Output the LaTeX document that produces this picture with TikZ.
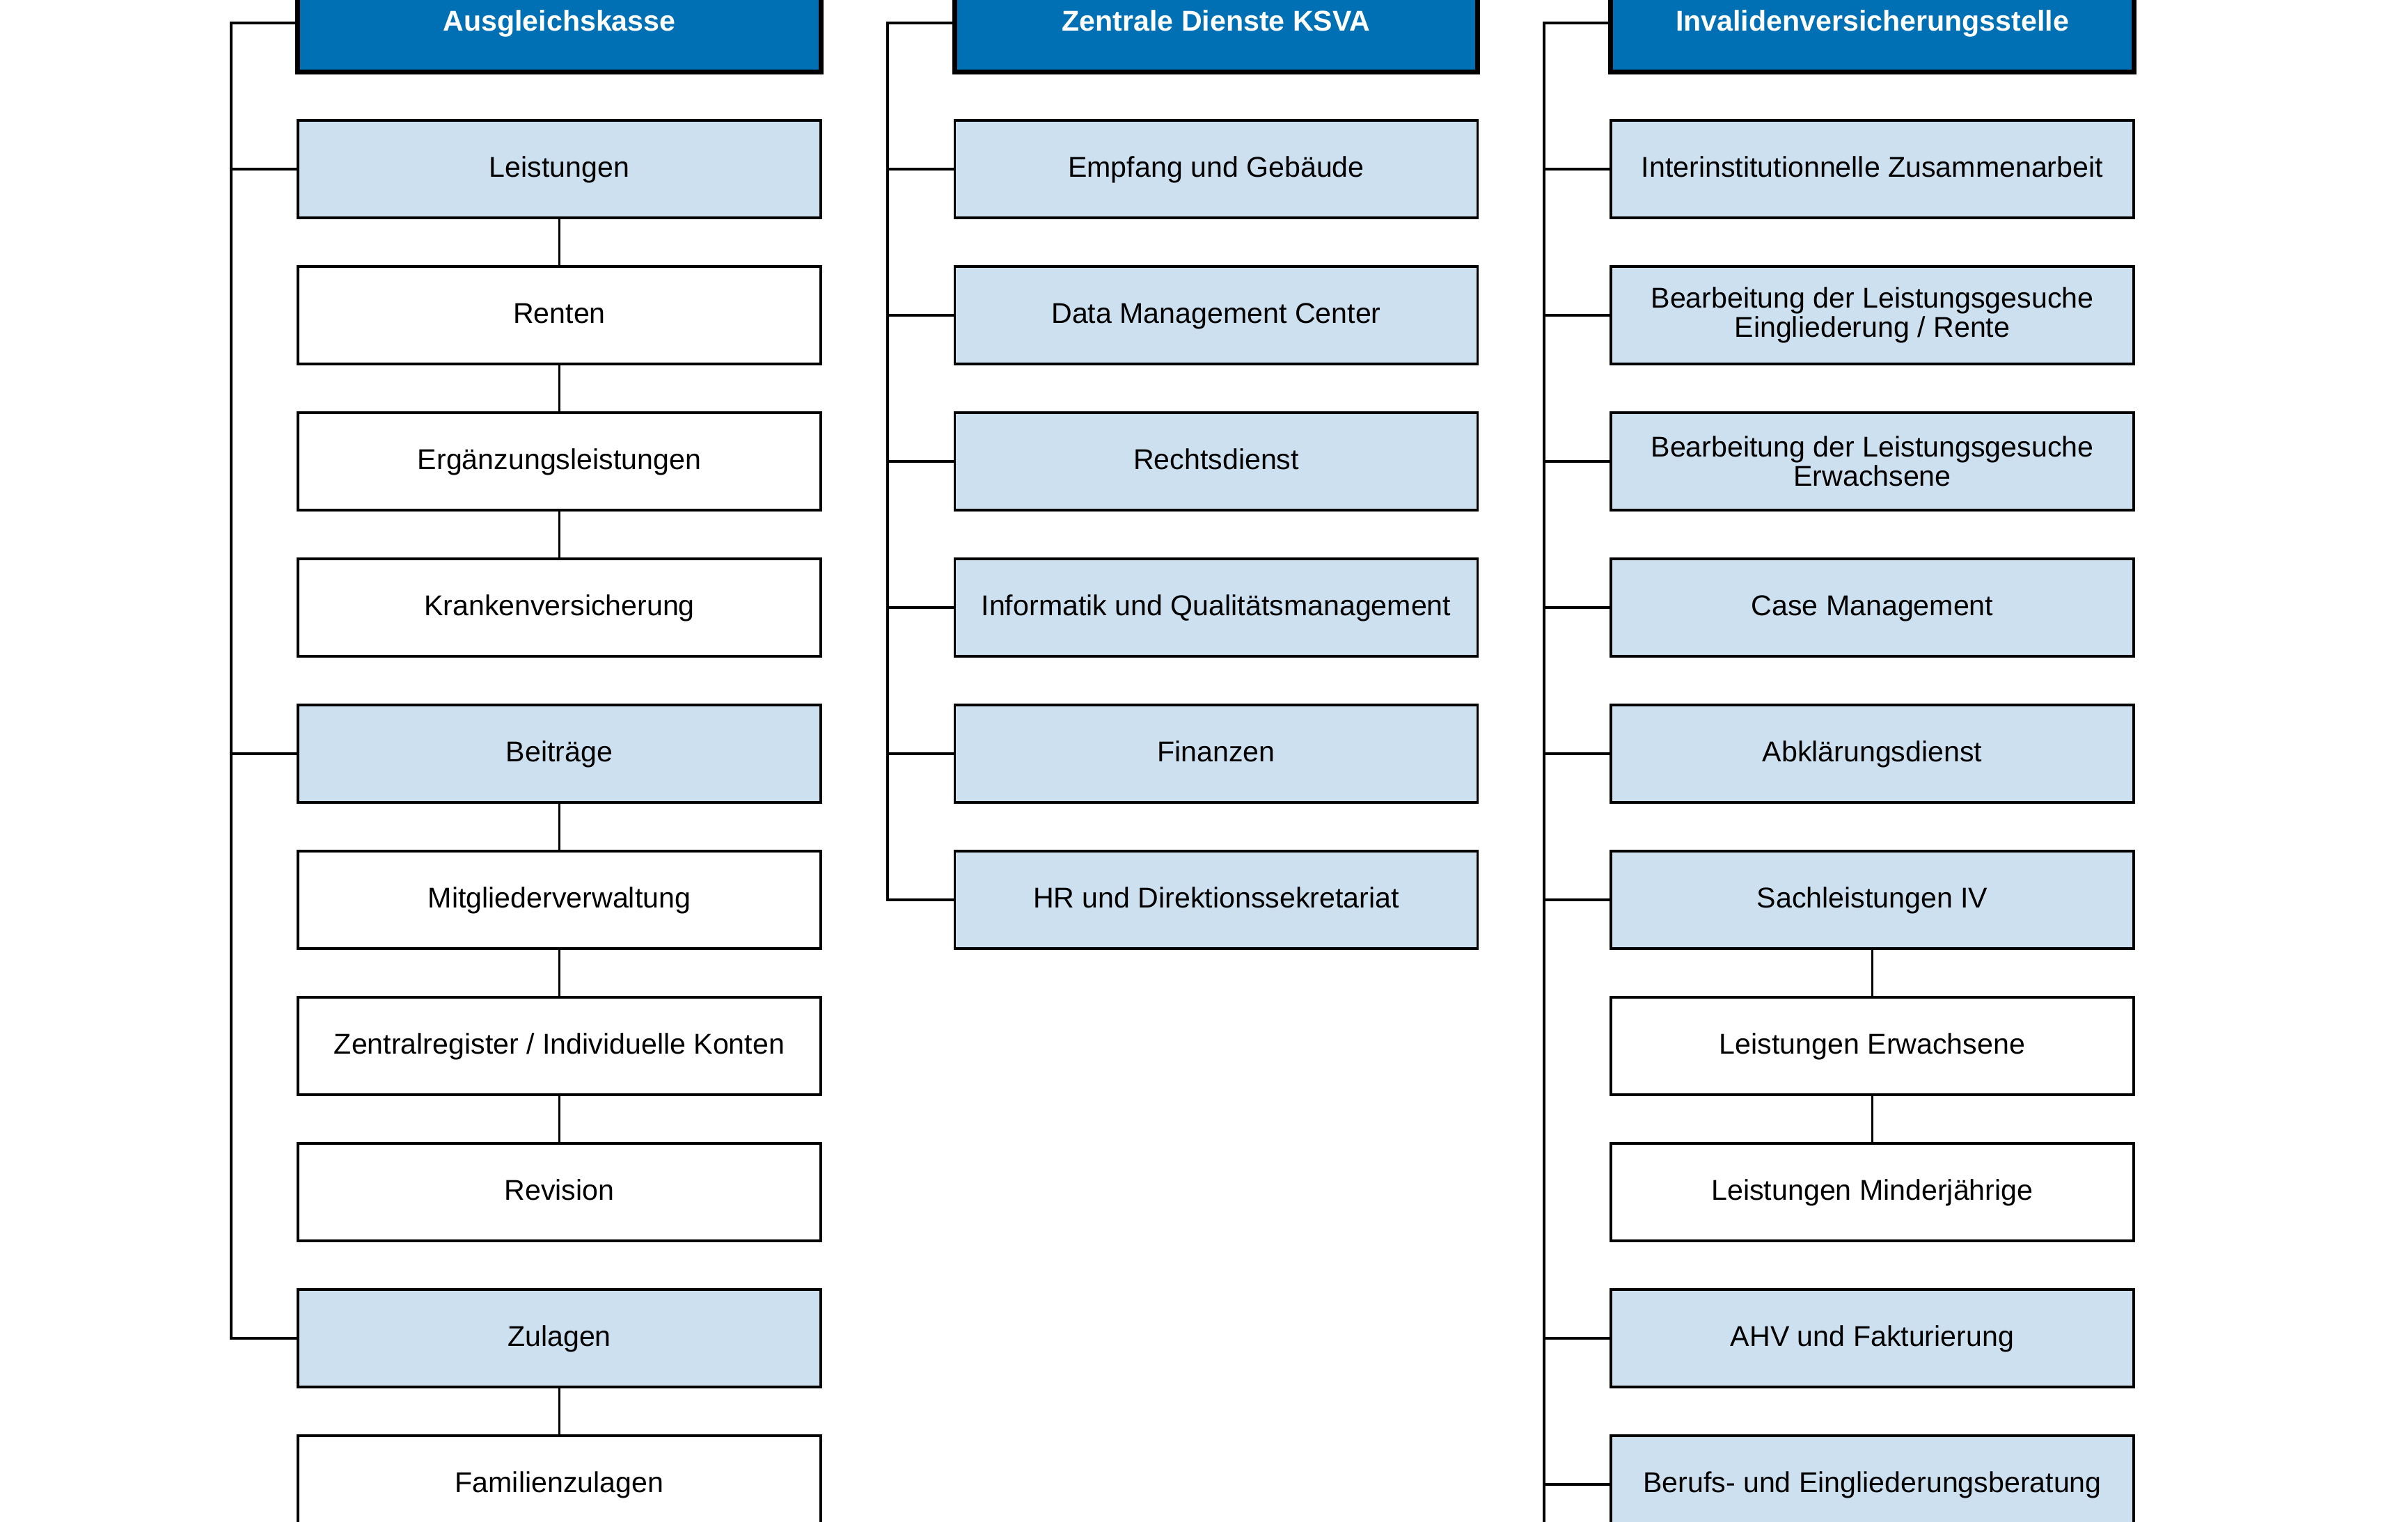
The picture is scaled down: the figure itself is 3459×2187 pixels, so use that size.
\documentclass[tikz,border=0pt]{standalone}
\usepackage{fontspec}
\setmainfont{Liberation Sans}
\definecolor{hdrblue}{RGB}{0,112,180}
\definecolor{lightblue}{RGB}{204,224,239}
\begin{document}
\begin{tikzpicture}[x=0.01cm,y=-0.01cm,
  box/.style={draw=black, line width=1pt, minimum width=7.51cm, minimum height=1.40cm,
    inner sep=0pt, align=center, text height=0.72em, text depth=0.05em,
    font=\fontsize{11.7}{11.9}\selectfont},
  unit/.style={box, fill=lightblue},
  sub/.style={box, fill=white},
  twoline/.style={text height={}, text depth={}},
  hdr/.style={box, fill=hdrblue, line width=2pt, text=white,
    font=\fontsize{11.7}{11.9}\selectfont\bfseries},
  conn/.style={draw=black, line width=1pt}]
\useasboundingbox (0,0) rectangle (3459,2187);
\clip (0,0) rectangle (3459,2187);
\fill[white] (0,0) rectangle (3459,2187);

% trunk x positions
\coordinate (t1) at (332,0);
\coordinate (t2) at (1275,0);
\coordinate (t3) at (2218,0);
\coordinate (t3end) at (2218,2200);

% Column 1
\node[hdr]  (a0)  at (803.5,33)   {Ausgleichskasse};
\node[unit] (a1)  at (803.5,243)  {Leistungen};
\node[sub]  (a2)  at (803.5,453)  {Renten};
\node[sub]  (a3)  at (803.5,663)  {Ergänzungsleistungen};
\node[sub]  (a4)  at (803.5,873)  {Krankenversicherung};
\node[unit] (a5)  at (803.5,1083) {Beiträge};
\node[sub]  (a6)  at (803.5,1293) {Mitgliederverwaltung};
\node[sub]  (a7)  at (803.5,1503) {Zentralregister / Individuelle Konten};
\node[sub]  (a8)  at (803.5,1713) {Revision};
\node[unit] (a9)  at (803.5,1923) {Zulagen};
\node[sub]  (a10) at (803.5,2133) {Familienzulagen};

% Column 2
\node[hdr]  (b0) at (1747,33)   {Zentrale Dienste KSVA};
\node[unit] (b1) at (1747,243)  {Empfang und Gebäude};
\node[unit] (b2) at (1747,453)  {Data Management Center};
\node[unit] (b3) at (1747,663)  {Rechtsdienst};
\node[unit] (b4) at (1747,873)  {Informatik und Qualitätsmanagement};
\node[unit] (b5) at (1747,1083) {Finanzen};
\node[unit] (b6) at (1747,1293) {HR und Direktionssekretariat};

% Column 3
\node[hdr]  (c0)  at (2689.5,33)   {Invalidenversicherungsstelle};
\node[unit] (c1)  at (2689.5,243)  {Interinstitutionnelle Zusammenarbeit};
\node[unit,twoline] (c2)  at (2689.5,453)  {Bearbeitung der Leistungsgesuche\\Eingliederung / Rente};
\node[unit,twoline] (c3)  at (2689.5,663)  {Bearbeitung der Leistungsgesuche\\Erwachsene};
\node[unit] (c4)  at (2689.5,873)  {Case Management};
\node[unit] (c5)  at (2689.5,1083) {Abklärungsdienst};
\node[unit] (c6)  at (2689.5,1293) {Sachleistungen IV};
\node[sub]  (c7)  at (2689.5,1503) {Leistungen Erwachsene};
\node[sub]  (c8)  at (2689.5,1713) {Leistungen Minderjährige};
\node[unit] (c9)  at (2689.5,1923) {AHV und Fakturierung};
\node[unit] (c10) at (2689.5,2133) {Berufs- und Eingliederungsberatung};

% Column 1 connectors
\draw[conn] (a0.west) -- (a0.west -| t1) |- (a9.west);
\draw[conn] (a1.west) -- (a1.west -| t1);
\draw[conn] (a5.west) -- (a5.west -| t1);
\draw[conn] (a1.south) -- (a2.north);
\draw[conn] (a2.south) -- (a3.north);
\draw[conn] (a3.south) -- (a4.north);
\draw[conn] (a5.south) -- (a6.north);
\draw[conn] (a6.south) -- (a7.north);
\draw[conn] (a7.south) -- (a8.north);
\draw[conn] (a9.south) -- (a10.north);

% Column 2 connectors
\draw[conn] (b0.west) -- (b0.west -| t2) |- (b6.west);
\foreach \n in {b1,b2,b3,b4,b5}{\draw[conn] (\n.west) -- (\n.west -| t2);}

% Column 3 connectors
\draw[conn] (c0.west) -| (t3end);
\foreach \n in {c1,c2,c3,c4,c5,c6,c9,c10}{\draw[conn] (\n.west) -- (\n.west -| t3);}
\draw[conn] (c6.south) -- (c7.north);
\draw[conn] (c7.south) -- (c8.north);
\end{tikzpicture}
\end{document}
